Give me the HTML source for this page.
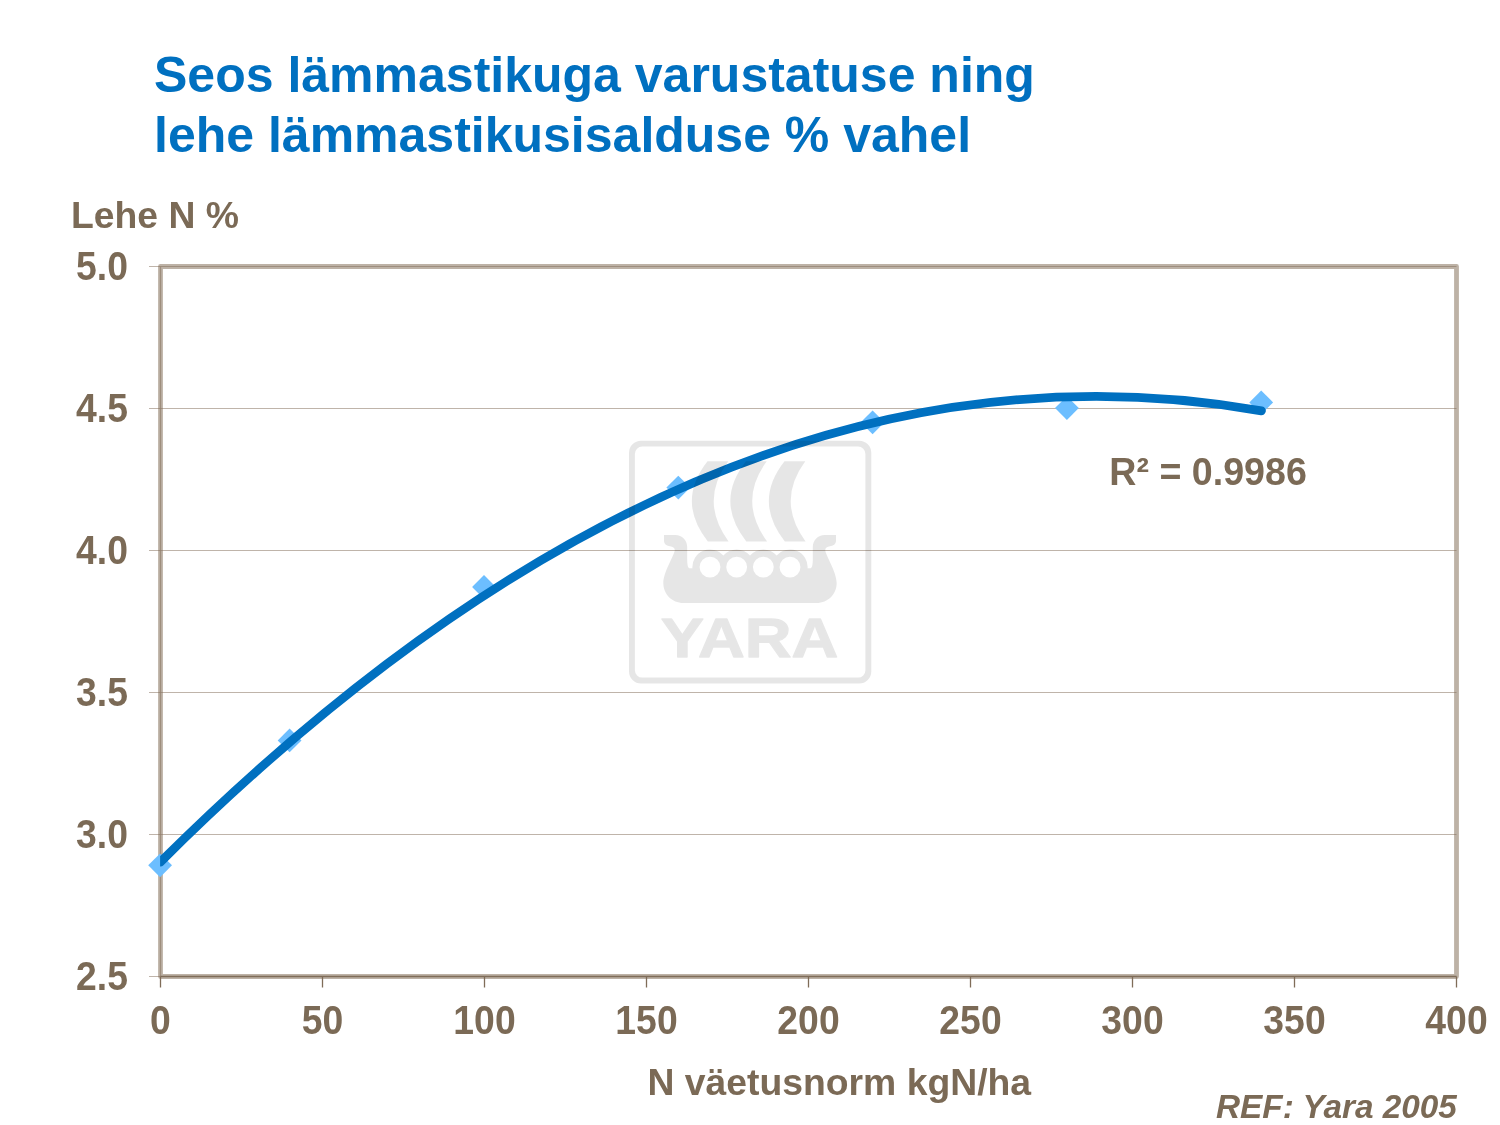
<!DOCTYPE html>
<html lang="et"><head><meta charset="utf-8"><title>Seos lämmastikuga varustatuse ning lehe lämmastikusisalduse % vahel</title>
<style>
html,body{margin:0;padding:0;background:#fff;}
body{width:1500px;height:1125px;overflow:hidden;position:relative;font-family:"Liberation Sans",Arial,sans-serif;}
svg{position:absolute;left:0;top:0;display:block}
text{font-family:"Liberation Sans",Arial,sans-serif;font-weight:bold;}
.t{fill:#0070c0;font-size:50px}
.a{fill:#7b6a56;font-size:37.33px}
</style></head><body>
<svg width="1500" height="1125" viewBox="0 0 1500 1125">
<defs><clipPath id="pc"><rect x="159.8" y="260" width="1300" height="720"/></clipPath></defs>
<rect width="1500" height="1125" fill="#fff"/>

<text class="t" x="154" y="91.6">Seos lämmastikuga varustatuse ning</text>
<text class="t" x="154" y="151.6">lehe lämmastikusisalduse % vahel</text>
<text class="a" x="71" y="228">Lehe N %</text>
<rect x="160.5" y="266.5" width="1296.0" height="710.0" fill="none" stroke="#bdb2a6" stroke-width="4.8" stroke-linejoin="round"/>
<line x1="160.5" x2="1456.5" y1="834.5" y2="834.5" stroke="#7f6a55" stroke-opacity=".5" stroke-width="1"/>
<line x1="160.5" x2="1456.5" y1="692.5" y2="692.5" stroke="#7f6a55" stroke-opacity=".5" stroke-width="1"/>
<line x1="160.5" x2="1456.5" y1="550.5" y2="550.5" stroke="#7f6a55" stroke-opacity=".5" stroke-width="1"/>
<line x1="160.5" x2="1456.5" y1="408.5" y2="408.5" stroke="#7f6a55" stroke-opacity=".5" stroke-width="1"/>
<line x1="160.5" x2="1456.5" y1="266.5" y2="266.5" stroke="#7f6a55" stroke-opacity=".5" stroke-width="1"/>
<path d="M160.5 266.5 V976.5" fill="none" stroke="#9e8e7d" stroke-width="1.3"/>
<path d="M160.5 976.5 H1456.5" fill="none" stroke="#7f6c58" stroke-width="1.4"/>
<line x1="149" x2="160.5" y1="976.5" y2="976.5" stroke="#7f6a55" stroke-opacity=".5" stroke-width="1"/>
<text class="a" text-anchor="end" transform="translate(128 990.0) scale(1 1.065)">2.5</text>
<line x1="149" x2="160.5" y1="834.5" y2="834.5" stroke="#7f6a55" stroke-opacity=".5" stroke-width="1"/>
<text class="a" text-anchor="end" transform="translate(128 848.0) scale(1 1.065)">3.0</text>
<line x1="149" x2="160.5" y1="692.5" y2="692.5" stroke="#7f6a55" stroke-opacity=".5" stroke-width="1"/>
<text class="a" text-anchor="end" transform="translate(128 706.0) scale(1 1.065)">3.5</text>
<line x1="149" x2="160.5" y1="550.5" y2="550.5" stroke="#7f6a55" stroke-opacity=".5" stroke-width="1"/>
<text class="a" text-anchor="end" transform="translate(128 564.0) scale(1 1.065)">4.0</text>
<line x1="149" x2="160.5" y1="408.5" y2="408.5" stroke="#7f6a55" stroke-opacity=".5" stroke-width="1"/>
<text class="a" text-anchor="end" transform="translate(128 422.0) scale(1 1.065)">4.5</text>
<line x1="149" x2="160.5" y1="266.5" y2="266.5" stroke="#7f6a55" stroke-opacity=".5" stroke-width="1"/>
<text class="a" text-anchor="end" transform="translate(128 280.0) scale(1 1.065)">5.0</text>
<line x1="160.5" x2="160.5" y1="976.5" y2="987.5" stroke="#7f6c58" stroke-width="1.3"/>
<text class="a" text-anchor="middle" transform="translate(160.5 1034.1) scale(1 1.065)">0</text>
<line x1="322.5" x2="322.5" y1="976.5" y2="987.5" stroke="#7f6c58" stroke-width="1.3"/>
<text class="a" text-anchor="middle" transform="translate(322.5 1034.1) scale(1 1.065)">50</text>
<line x1="484.5" x2="484.5" y1="976.5" y2="987.5" stroke="#7f6c58" stroke-width="1.3"/>
<text class="a" text-anchor="middle" transform="translate(484.5 1034.1) scale(1 1.065)">100</text>
<line x1="646.5" x2="646.5" y1="976.5" y2="987.5" stroke="#7f6c58" stroke-width="1.3"/>
<text class="a" text-anchor="middle" transform="translate(646.5 1034.1) scale(1 1.065)">150</text>
<line x1="808.5" x2="808.5" y1="976.5" y2="987.5" stroke="#7f6c58" stroke-width="1.3"/>
<text class="a" text-anchor="middle" transform="translate(808.5 1034.1) scale(1 1.065)">200</text>
<line x1="970.5" x2="970.5" y1="976.5" y2="987.5" stroke="#7f6c58" stroke-width="1.3"/>
<text class="a" text-anchor="middle" transform="translate(970.5 1034.1) scale(1 1.065)">250</text>
<line x1="1132.5" x2="1132.5" y1="976.5" y2="987.5" stroke="#7f6c58" stroke-width="1.3"/>
<text class="a" text-anchor="middle" transform="translate(1132.5 1034.1) scale(1 1.065)">300</text>
<line x1="1294.5" x2="1294.5" y1="976.5" y2="987.5" stroke="#7f6c58" stroke-width="1.3"/>
<text class="a" text-anchor="middle" transform="translate(1294.5 1034.1) scale(1 1.065)">350</text>
<line x1="1456.5" x2="1456.5" y1="976.5" y2="987.5" stroke="#7f6c58" stroke-width="1.3"/>
<text class="a" text-anchor="middle" transform="translate(1456.5 1034.1) scale(1 1.065)">400</text>
<path d="M148.2 865.3 L160.1 853.4 L172.0 865.3 L160.1 877.2Z" fill="#6cbeff"/>
<path d="M277.7 740.4 L289.6 728.5 L301.5 740.4 L289.6 752.3Z" fill="#6cbeff"/>
<path d="M472.1 587.0 L484.0 575.1 L495.9 587.0 L484.0 598.9Z" fill="#6cbeff"/>
<path d="M666.4 487.6 L678.3 475.7 L690.2 487.6 L678.3 499.5Z" fill="#6cbeff"/>
<path d="M860.7 422.3 L872.6 410.4 L884.5 422.3 L872.6 434.2Z" fill="#6cbeff"/>
<path d="M1055.0 408.1 L1066.9 396.2 L1078.8 408.1 L1066.9 420.0Z" fill="#6cbeff"/>
<path d="M1249.3 402.4 L1261.2 390.5 L1273.1 402.4 L1261.2 414.3Z" fill="#6cbeff"/>
<path d="M160.10 861.55 Q710.65 313.73 1261.19 410.37" fill="none" stroke="#0070c0" stroke-width="8.7" stroke-linecap="round" transform="translate(0.3 0.5)" clip-path="url(#pc)"/>
<text class="a" transform="translate(1109.3 485.2) scale(1.0075 1.035)">R² = 0.9986</text>
<text class="a" x="647.4" y="1094.9">N väetusnorm kgN/ha</text>
<text x="1216" y="1118" font-style="italic" font-size="33.35px" fill="#7b6a56">REF: Yara 2005</text>
<g fill="#000" opacity="0.094" id="logo">
<path fill-rule="evenodd" d="M641 440.7H859.3A12 12 0 0 1 871.3 452.7V671.4A12 12 0 0 1 859.3 683.4H641A12 12 0 0 1 629 671.4V452.7A12 12 0 0 1 641 440.7ZM642.3 446.5A7.4 7.4 0 0 0 634.9 453.9V670.2A7.4 7.4 0 0 0 642.3 677.6H858A7.4 7.4 0 0 0 865.4 670.2V453.9A7.4 7.4 0 0 0 858 446.5Z"/>
<path d="M707.5 461.2H728.3Q699.0 501 728.6 541.4H707.8Q676.0 501 707.5 461.2Z"/>
<path d="M746.0 461.2H766.8Q737.5 501 767.1 541.4H746.3Q714.5 501 746.0 461.2Z"/>
<path d="M784.5 461.2H805.3Q776.0 501 805.6 541.4H784.8Q753.0 501 784.5 461.2Z"/>
<path fill-rule="evenodd" d="M664 535H675.5C682 535 687.2 540 687.2 547V559C687.2 565 688 568.3 690 568.3H692.4A17.6 17.6 0 0 1 723.33 555.6A17.6 17.6 0 0 1 750.00 555.6A17.6 17.6 0 0 1 776.67 555.6A17.6 17.6 0 0 1 807.60 568.3H810C812 568.3 812.8 565 812.8 559V547C812.8 540 818 535 824.5 535H836V541C836 544 833 546 830 546.2C827 546.5 825 548 825.3 550.5C826 556 836.7 572 836.7 583C836.7 594 828 603 816.7 603H683.3C672 603 663.3 594 663.3 583C663.3 572 674 556 674.7 550.5C675 548 673 546.5 670 546.2C667 546 664 544 664 541ZM710.00 567.1m-10.4 0a10.4 10.4 0 1 0 20.8 0a10.4 10.4 0 1 0 -20.8 0ZM736.67 567.1m-10.4 0a10.4 10.4 0 1 0 20.8 0a10.4 10.4 0 1 0 -20.8 0ZM763.33 567.1m-10.4 0a10.4 10.4 0 1 0 20.8 0a10.4 10.4 0 1 0 -20.8 0ZM790.00 567.1m-10.4 0a10.4 10.4 0 1 0 20.8 0a10.4 10.4 0 1 0 -20.8 0Z"/>
<text x="660.7" y="656.7" font-size="56px" textLength="177.5" lengthAdjust="spacingAndGlyphs" stroke="#000" stroke-width="1.3" stroke-linejoin="round">YARA</text>
</g>
</svg></body></html>
